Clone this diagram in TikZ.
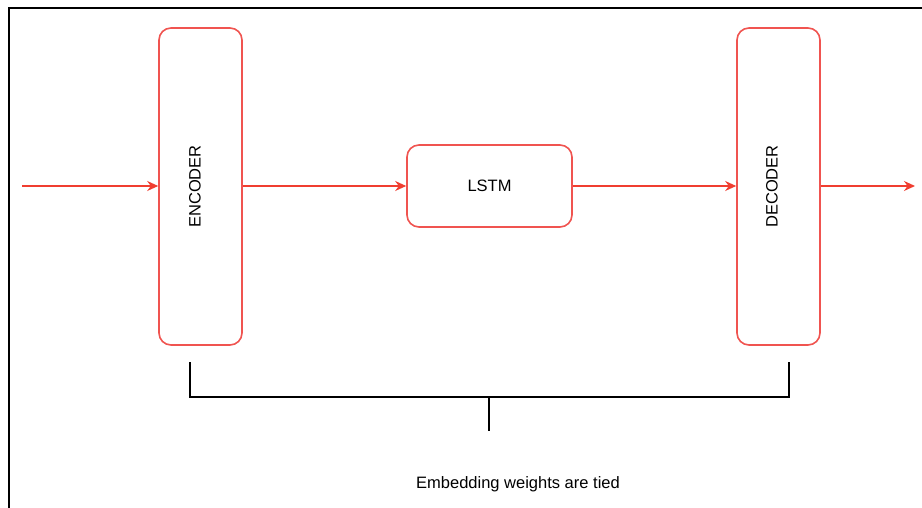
\documentclass[tikz,border=0pt]{standalone}
\usepackage{fontspec}
\setmainfont{Liberation Sans}
\usetikzlibrary{arrows.meta}
\definecolor{boxred}{RGB}{240,84,80}
\definecolor{arrred}{RGB}{240,62,48}
\tikzset{
  block/.style={draw=boxred, line width=1.6pt, rounded corners=12pt, inner sep=0pt, font=\fontsize{16.5}{19}\selectfont},
  flow/.style={draw=arrred, line width=1.6pt, -{Stealth[length=11pt,width=10pt]}},
  tie/.style={draw=black, line width=2.8pt},
  lbl/.style={font=\fontsize{16.5}{19}\selectfont},
}
\begin{document}
\begin{tikzpicture}[x=1pt,y=-1pt]
\useasboundingbox (0,0) rectangle (922,508);
\fill[white] (0,0) rectangle (922,508);
\draw[line width=2.8pt] (9,515) -- (9,8) -- (930,8);
\node[block, minimum width=83pt, minimum height=317pt] (enc) at (200.5,186.5) {};
\node[rotate=90, lbl] (enct) at (195,186.5) {ENCODER};
\node[block, minimum width=83pt, minimum height=317pt] (dec) at (778.5,186.5) {};
\node[rotate=90, lbl] (dect) at (772,186.5) {DECODER};
\node[block, minimum width=165pt, minimum height=82pt] (lstm) at (489.5,186) {LSTM};
\coordinate (in) at (22,186);
\coordinate (out) at (915,186);
\draw[flow] (in) -- (enc.west |- in);
\draw[flow] (enc.east |- lstm.west) -- (lstm.west);
\draw[flow] (lstm.east) -- (dec.west |- lstm.east);
\draw[flow] (dec.east |- out) -- (out);
\coordinate (bl) at (190,362);
\coordinate (br) at (789,362);
\coordinate (bm) at (489,397);
\coordinate (bs) at (489,431);
\draw[tie] (bl) -- (190,397) -- (789,397) -- (br);
\draw[tie] (bm) -- (bs);
\node[lbl] (txt) at (518,484) {Embedding weights are tied};
\end{tikzpicture}
\end{document}
